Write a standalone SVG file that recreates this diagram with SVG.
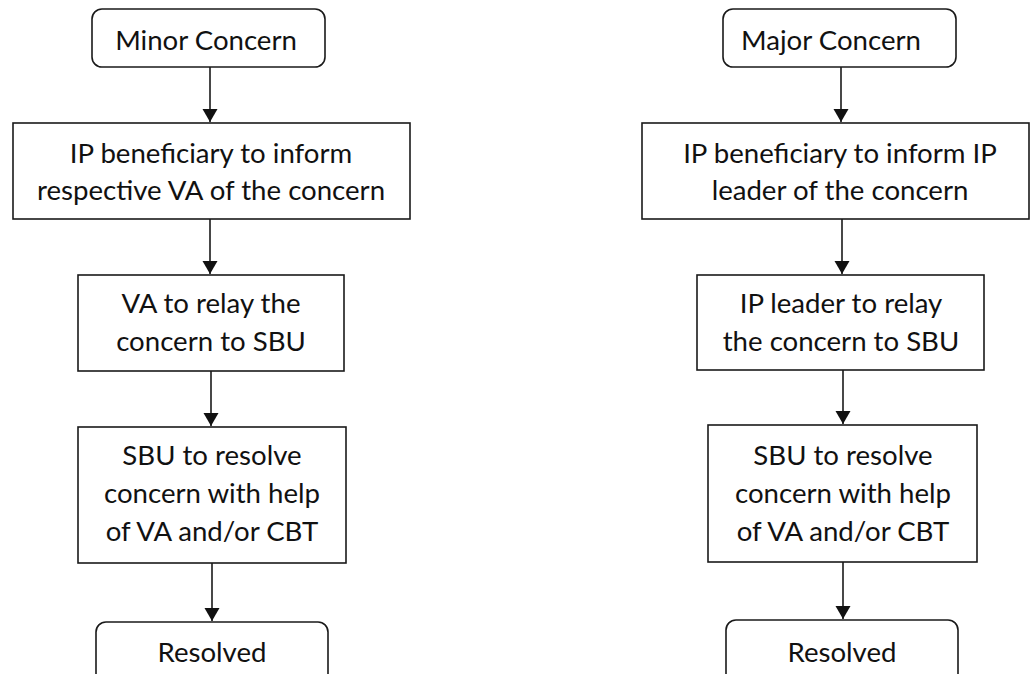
<svg xmlns="http://www.w3.org/2000/svg" width="1031" height="674" viewBox="0 0 1031 674">
  <style>
    .box { fill: #ffffff; stroke: #1a1a1a; stroke-width: 1.6; }
    .lbl { font-family: "Lato", "Open Sans", sans-serif; font-size: 27.6px; fill: #111111; text-anchor: middle; }
    .conn { stroke: #1a1a1a; stroke-width: 1.6; fill: none; marker-end: url(#arrow); }
  </style>
  <defs>
    <marker id="arrow" markerUnits="userSpaceOnUse" markerWidth="14" markerHeight="16" refX="13" refY="7.5" orient="auto">
      <path d="M0,0 L13,7.5 L0,15 Z" fill="#111111"/>
    </marker>
  </defs>
  <rect width="1031" height="674" fill="#ffffff"/>

  <g id="connectors">
    <line class="conn" x1="210" y1="67" x2="210" y2="122"/>
    <line class="conn" x1="210" y1="219" x2="210" y2="274"/>
    <line class="conn" x1="211" y1="371" x2="211" y2="426"/>
    <line class="conn" x1="212" y1="563" x2="212" y2="621"/>
    <line class="conn" x1="841" y1="67" x2="841" y2="122"/>
    <line class="conn" x1="842" y1="219" x2="842" y2="274"/>
    <line class="conn" x1="843" y1="370" x2="843" y2="424"/>
    <line class="conn" x1="843" y1="562" x2="843" y2="619"/>
  </g>

  <g id="minor-concern">
    <rect class="box" x="92" y="9" width="233" height="58" rx="10" ry="10"/>
    <text class="lbl" x="206" y="50">Minor Concern</text>
  </g>
  <g id="minor-inform">
    <rect class="box" x="13" y="123" width="397" height="96"/>
    <text class="lbl" x="211" y="163">IP beneficiary to inform</text>
    <text class="lbl" x="211" y="200">respective VA of the concern</text>
  </g>
  <g id="minor-relay">
    <rect class="box" x="78" y="275" width="266" height="96"/>
    <text class="lbl" x="211" y="313">VA to relay the</text>
    <text class="lbl" x="211" y="351">concern to SBU</text>
  </g>
  <g id="minor-resolve">
    <rect class="box" x="78" y="427" width="268" height="136"/>
    <text class="lbl" x="212" y="465">SBU to resolve</text>
    <text class="lbl" x="212" y="503">concern with help</text>
    <text class="lbl" x="212" y="541">of VA and/or CBT</text>
  </g>
  <g id="minor-resolved">
    <rect class="box" x="96" y="622" width="232" height="70" rx="10" ry="10"/>
    <text class="lbl" x="212" y="662">Resolved</text>
  </g>

  <g id="major-concern">
    <rect class="box" x="723" y="9" width="233" height="58" rx="10" ry="10"/>
    <text class="lbl" x="831" y="50">Major Concern</text>
  </g>
  <g id="major-inform">
    <rect class="box" x="642" y="123" width="387" height="96"/>
    <text class="lbl" x="840" y="163">IP beneficiary to inform IP</text>
    <text class="lbl" x="840" y="200">leader of the concern</text>
  </g>
  <g id="major-relay">
    <rect class="box" x="697" y="275" width="287" height="95"/>
    <text class="lbl" x="841" y="313">IP leader to relay</text>
    <text class="lbl" x="841" y="351">the concern to SBU</text>
  </g>
  <g id="major-resolve">
    <rect class="box" x="708" y="425" width="269" height="137"/>
    <text class="lbl" x="843" y="465">SBU to resolve</text>
    <text class="lbl" x="843" y="503">concern with help</text>
    <text class="lbl" x="843" y="541">of VA and/or CBT</text>
  </g>
  <g id="major-resolved">
    <rect class="box" x="726" y="620" width="232" height="72" rx="10" ry="10"/>
    <text class="lbl" x="842" y="662">Resolved</text>
  </g>
</svg>
